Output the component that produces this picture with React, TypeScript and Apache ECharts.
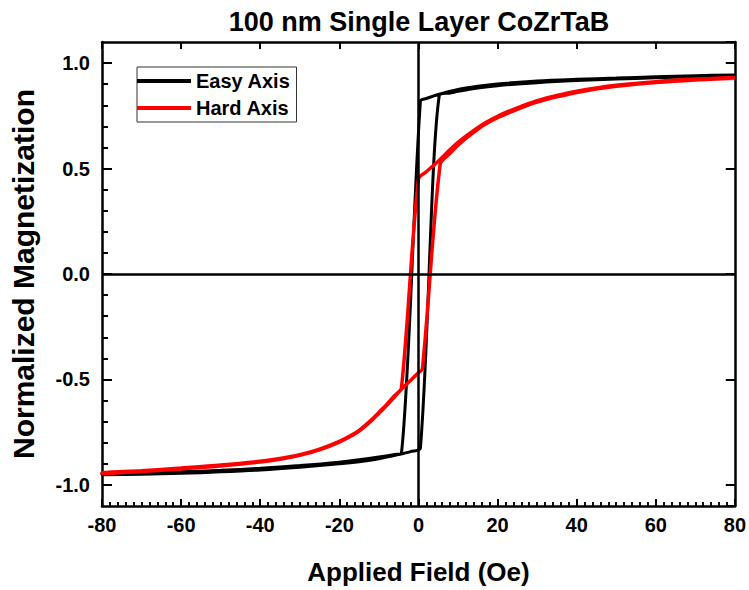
import React, { useEffect, useRef } from "react";
import * as echarts from "echarts";

// Easy axis loop: descending branch (from +80 Oe) then ascending branch (from -80 Oe)
const easyDescField = [80, 70, 60, 50, 40, 30, 20, 15, 10, 5, 2, 0.5, -4.3, -6, -10, -15, -20, -30, -40, -50, -60, -70, -80];
const easyDescM = [0.944, 0.94, 0.935, 0.929, 0.923, 0.915, 0.901, 0.89, 0.875, 0.851, 0.832, 0.82, -0.85, -0.856, -0.868, -0.881, -0.892, -0.908, -0.921, -0.931, -0.938, -0.943, -0.946];
const easyAscField = [-80, -70, -60, -50, -40, -30, -20, -15, -10, -5, -2, 0.5, 5.3, 8, 10, 15, 20, 30, 40, 50, 60, 70, 80];
const easyAscM = [-0.952, -0.949, -0.945, -0.938, -0.929, -0.916, -0.9, -0.89, -0.876, -0.856, -0.842, -0.826, 0.85, 0.858, 0.866, 0.882, 0.893, 0.907, 0.917, 0.924, 0.93, 0.935, 0.94];

// Hard axis loop
const hardDescField = [80, 70, 60, 50, 40, 35, 30, 25, 20, 17, 15, 12, 10, 8, 5, 2, 0, -4.3, -6, -8, -10, -12, -15, -17, -20, -25, -30, -35, -40, -50, -60, -70, -80];
const hardDescM = [0.932, 0.924, 0.912, 0.895, 0.867, 0.847, 0.822, 0.788, 0.748, 0.718, 0.694, 0.654, 0.624, 0.59, 0.535, 0.485, 0.45, -0.54, -0.576, -0.618, -0.656, -0.694, -0.741, -0.765, -0.794, -0.831, -0.857, -0.875, -0.888, -0.906, -0.92, -0.933, -0.943];
const hardAscField = [-80, -70, -60, -50, -40, -35, -30, -25, -20, -17, -15, -12, -10, -8, -6, -4.3, -2, 0, 1, 5.5, 8, 10, 12, 15, 17, 20, 25, 30, 35, 40, 50, 60, 70, 80];
const hardAscM = [-0.947, -0.937, -0.924, -0.91, -0.892, -0.879, -0.86, -0.834, -0.797, -0.768, -0.745, -0.698, -0.661, -0.623, -0.582, -0.546, -0.505, -0.468, -0.45, 0.52, 0.572, 0.61, 0.643, 0.686, 0.711, 0.741, 0.781, 0.815, 0.84, 0.861, 0.89, 0.908, 0.92, 0.928];

// Tick positions
const xMajorTicks = [-80, -60, -40, -20, 0, 20, 40, 60, 80];
const xMinorTicks = [-78, -76, -74, -72, -70, -68, -66, -64, -62, -58, -56, -54, -52, -50, -48, -46, -44, -42, -38, -36, -34, -32, -30, -28, -26, -24, -22, -18, -16, -14, -12, -10, -8, -6, -4, -2, 2, 4, 6, 8, 10, 12, 14, 16, 18, 22, 24, 26, 28, 30, 32, 34, 36, 38, 42, 44, 46, 48, 50, 52, 54, 56, 58, 62, 64, 66, 68, 70, 72, 74, 76, 78];
const yMajorTicks = [-1.0, -0.5, 0.0, 0.5, 1.0];
const yMinorTicks = [-0.9, -0.8, -0.7, -0.6, -0.4, -0.3, -0.2, -0.1, 0.1, 0.2, 0.3, 0.4, 0.6, 0.7, 0.8, 0.9];

const xRange = { min: -80, max: 80, interval: 20 };
const yRange = { min: -1.1, max: 1.1 };

const FONT = "'Liberation Sans', Arial, sans-serif";
const W = 749;
const H = 590;
const GRID = { left: 102, right: 14, top: 42, bottom: 83 };

function zip(xs: number[], ys: number[]) {
  return xs.map((x, i) => [x, ys[i]]);
}

export default function App() {
  const ref = useRef<HTMLDivElement>(null);
  useEffect(() => {
    if (!ref.current) return;
    const chart = echarts.init(ref.current, undefined, { renderer: "svg" });
    const frameLine = { show: true, onZero: false, lineStyle: { color: "#000", width: 2.5 } };
    // data units per pixel, so that inward ticks have fixed pixel lengths
    const xPerPx = (xRange.max - xRange.min) / (W - GRID.left - GRID.right);
    const yPerPx = (yRange.max - yRange.min) / (H - GRID.top - GRID.bottom);
    const seg = (a: number[], b: number[], w: number) => [
      { coord: a, lineStyle: { color: "#000", width: w, type: "solid" } },
      { coord: b },
    ];
    const tickMarks: any[] = [];
    xMajorTicks.forEach((t) => {
      tickMarks.push(seg([t, yRange.min], [t, yRange.min + 7 * yPerPx], 2));
      tickMarks.push(seg([t, yRange.max], [t, yRange.max - 7 * yPerPx], 2));
    });
    xMinorTicks.forEach((t) => tickMarks.push(seg([t, yRange.min], [t, yRange.min + 4 * yPerPx], 1.5)));
    yMajorTicks.forEach((t) => {
      tickMarks.push(seg([xRange.min, t], [xRange.min + 10 * xPerPx, t], 2));
      tickMarks.push(seg([xRange.max, t], [xRange.max - 9 * xPerPx, t], 2));
    });
    yMinorTicks.forEach((t) => tickMarks.push(seg([xRange.min, t], [xRange.min + 6 * xPerPx, t], 2)));

    const option: any = {
      animation: false,
      title: {
        text: "100 nm Single Layer CoZrTaB",
        left: 414,
        top: 3,
        textAlign: "center",
        textStyle: { fontFamily: FONT, fontWeight: "bold", fontSize: 27, color: "#000" },
      },
      legend: {
        data: ["Easy Axis", "Hard Axis"],
        orient: "vertical",
        left: 137,
        top: 67,
        borderColor: "#333",
        borderWidth: 1,
        padding: [4, 6, 4, 0],
        itemGap: 7,
        itemWidth: 54,
        itemHeight: 4,
        icon: "rect",
        textStyle: { fontFamily: FONT, fontWeight: "bold", fontSize: 20, color: "#000", lineHeight: 20 },
      },
      grid: GRID,
      xAxis: [
        {
          type: "value",
          min: xRange.min,
          max: xRange.max,
          interval: xRange.interval,
          name: "Applied Field (Oe)",
          nameLocation: "middle",
          nameGap: 53,
          nameTextStyle: { fontFamily: FONT, fontWeight: "bold", fontSize: 26, color: "#000" },
          axisLine: frameLine,
          axisTick: { show: true, inside: true, length: 7, lineStyle: { color: "#000", width: 2 } },
          minorTick: { show: true, splitNumber: 10, length: 4, lineStyle: { color: "#000", width: 1.5 } },
          axisLabel: { show: true, margin: 9, fontFamily: FONT, fontWeight: "bold", fontSize: 20, color: "#000" },
          splitLine: { show: false },
        },
        {
          type: "value",
          position: "top",
          min: xRange.min,
          max: xRange.max,
          interval: xRange.interval,
          axisLine: frameLine,
          axisTick: { show: true, inside: true, length: 7, lineStyle: { color: "#000", width: 2 } },
          axisLabel: { show: false },
          splitLine: { show: false },
        },
      ],
      yAxis: [
        {
          type: "value",
          min: yRange.min,
          max: yRange.max,
          name: "Normalized Magnetization",
          nameLocation: "middle",
          nameGap: 64,
          nameTextStyle: { fontFamily: FONT, fontWeight: "bold", fontSize: 30, color: "#000" },
          axisLine: frameLine,
          axisTick: { show: true, inside: true, length: 10, lineStyle: { color: "#000", width: 2 } },
          axisLabel: {
            show: true,
            margin: 12,
            showMinLabel: false,
            showMaxLabel: false,
            fontFamily: FONT,
            fontWeight: "bold",
            fontSize: 20,
            color: "#000",
            formatter: (v: number) => (Math.abs(v * 2 - Math.round(v * 2)) < 1e-6 ? v.toFixed(1) : ""),
          },
          splitLine: { show: false },
        },
        {
          type: "value",
          position: "right",
          min: yRange.min,
          max: yRange.max,
          axisLine: frameLine,
          axisTick: { show: true, inside: true, length: 9, lineStyle: { color: "#000", width: 2 } },
          axisLabel: { show: false },
          splitLine: { show: false },
        },
      ],
      series: [
        {
          type: "line",
          name: "Easy Axis",
          data: [...zip(easyDescField, easyDescM), ...zip(easyAscField, easyAscM)],
          showSymbol: false,
          symbol: "none",
          smooth: 0.3,
          color: "#000",
          lineStyle: { color: "#000", width: 3 },
          markLine: {
            silent: true,
            symbol: "none",
            label: { show: false },
            lineStyle: { color: "#000", width: 2.5, type: "solid" },
            data: [{ xAxis: 0 }, { yAxis: 0 }, ...tickMarks],
          },
        },
        {
          type: "line",
          name: "Hard Axis",
          data: [...zip(hardDescField, hardDescM), ...zip(hardAscField, hardAscM)],
          showSymbol: false,
          symbol: "none",
          smooth: 0.3,
          color: "#ff0000",
          lineStyle: { color: "#ff0000", width: 3.5 },
        },
      ],
    };
    chart.setOption(option);
    return () => chart.dispose();
  }, []);
  return <div ref={ref} style={{ position: "absolute", left: 0, top: 0, width: W, height: H }} />;
}
